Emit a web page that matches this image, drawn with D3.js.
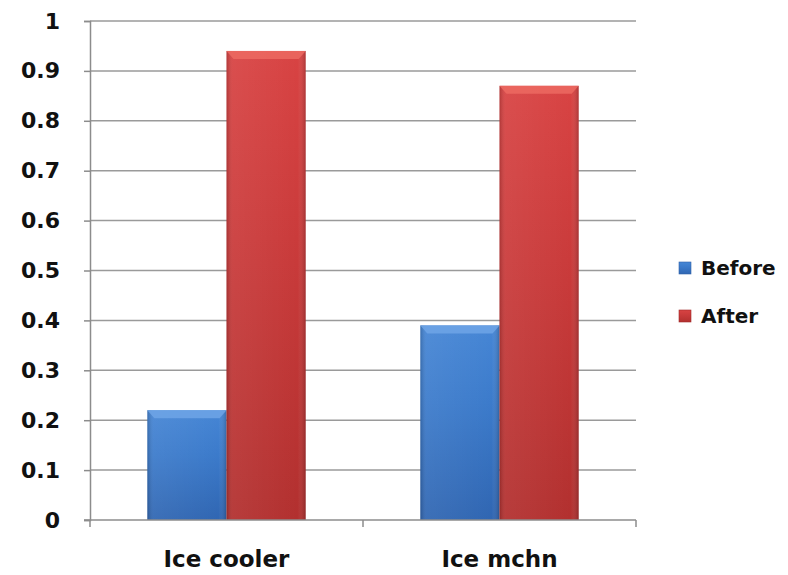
<!DOCTYPE html>
<html>
<head>
<meta charset="utf-8">
<script src="https://cdn.jsdelivr.net/npm/d3@7"></script>
<style>
  body { margin: 0; background: #fff; }
  text { font-family: "DejaVu Sans", Verdana, sans-serif; }
</style>
</head>
<body>
<svg id="chart"></svg>
<script>
const categories = ["Ice cooler", "Ice mchn"];
const seriesNames = ["Before", "After"];
const before = [0.22, 0.39];
const after = [0.94, 0.87];
const yTicks = [0, 0.1, 0.2, 0.3, 0.4, 0.5, 0.6, 0.7, 0.8, 0.9, 1];

const width = 788, height = 575;
const margin = { top: 21, right: 152, bottom: 55, left: 90 };

const svg = d3.select("#chart").attr("width", width).attr("height", height);

const defs = svg.append("defs");
function grad(id, top, mid, bottom) {
  const g = defs.append("linearGradient").attr("id", id)
    .attr("x1", 0).attr("y1", 0).attr("x2", 0).attr("y2", 1);
  g.append("stop").attr("offset", "0%").attr("stop-color", top);
  g.append("stop").attr("offset", "40%").attr("stop-color", mid);
  g.append("stop").attr("offset", "100%").attr("stop-color", bottom);
}
grad("gBefore", "#4686d5", "#3c7bcb", "#3066b2");
grad("gAfter", "#d84343", "#ca3b3b", "#b2302f");
const edge = defs.append("linearGradient").attr("id", "gEdge")
  .attr("x1", 0).attr("y1", 0).attr("x2", 1).attr("y2", 0);
edge.append("stop").attr("offset", "0%").attr("stop-color", "#000").attr("stop-opacity", 0.18);
edge.append("stop").attr("offset", "8%").attr("stop-color", "#fff").attr("stop-opacity", 0.06);
edge.append("stop").attr("offset", "90%").attr("stop-color", "#fff").attr("stop-opacity", 0);
edge.append("stop").attr("offset", "100%").attr("stop-color", "#000").attr("stop-opacity", 0.2);

const x0 = d3.scaleBand().domain(categories)
  .range([margin.left, width - margin.right])
  .paddingInner(0.42).paddingOuter(0.21);
const x1 = d3.scaleBand().domain(seriesNames).range([0, x0.bandwidth()]);
const y = d3.scaleLinear().domain([0, 1]).range([height - margin.bottom, margin.top]);

// gridlines
svg.append("g")
  .selectAll("line")
  .data(yTicks.filter(d => d > 0))
  .enter().append("line")
  .attr("x1", margin.left).attr("x2", width - margin.right)
  .attr("y1", d => y(d)).attr("y2", d => y(d))
  .attr("stroke", "#9a9a9a").attr("stroke-width", 1.5);

// y axis
const yAxis = svg.append("g")
  .attr("transform", `translate(${margin.left},0)`)
  .call(d3.axisLeft(y).tickValues(yTicks).tickSize(6).tickPadding(24)
    .tickFormat(d => d === 0 || d === 1 ? d3.format("d")(d) : d3.format(".1f")(d)));
yAxis.select(".domain").attr("stroke", "#8c8c8c").attr("stroke-width", 1.5);
yAxis.selectAll(".tick line").attr("stroke", "#8c8c8c").attr("stroke-width", 1.5);
yAxis.selectAll(".tick text")
  .attr("font-size", 22).attr("font-weight", "bold").attr("fill", "#111")
  .attr("font-family", "'DejaVu Sans', Verdana, sans-serif");

// bars
const rows = categories.map((c, i) => ({ cat: c, vals: [before[i], after[i]] }));
const group = svg.append("g")
  .selectAll("g")
  .data(rows)
  .enter().append("g")
  .attr("transform", d => `translate(${x0(d.cat)},0)`);

const bars = group.selectAll("g")
  .data(d => d.vals.map((v, k) => ({ key: seriesNames[k], value: v })))
  .enter().append("g");
bars.append("rect")
  .attr("x", d => x1(d.key)).attr("width", x1.bandwidth())
  .attr("y", d => y(d.value)).attr("height", d => y(0) - y(d.value))
  .attr("fill", d => d.key === "Before" ? "url(#gBefore)" : "url(#gAfter)");
bars.append("rect")
  .attr("x", d => x1(d.key)).attr("width", x1.bandwidth())
  .attr("y", d => y(d.value)).attr("height", d => y(0) - y(d.value))
  .attr("fill", "url(#gEdge)");
// top bevel
bars.append("path")
  .attr("d", d => {
    const l = x1(d.key), r = l + x1.bandwidth(), t = y(d.value);
    return `M${l},${t}L${r},${t}L${r - 7},${t + 8}L${l + 7},${t + 8}Z`;
  })
  .attr("fill", d => d.key === "Before" ? "#6ea4e6" : "#ec6a62")
  .attr("opacity", 0.85);

// x axis
const xAxis = svg.append("g").attr("transform", `translate(0,${y(0)})`);
xAxis.append("line")
  .attr("x1", margin.left - 6).attr("x2", width - margin.right)
  .attr("stroke", "#8c8c8c").attr("stroke-width", 1.5);
const boundaries = [margin.left, x0(categories[1]) - x0.step() * x0.paddingInner() / 2, width - margin.right];
xAxis.selectAll(".xt")
  .data(boundaries)
  .enter().append("line")
  .attr("x1", d => d).attr("x2", d => d).attr("y1", 0).attr("y2", 7)
  .attr("stroke", "#8c8c8c").attr("stroke-width", 1.5);
xAxis.selectAll("text")
  .data(categories)
  .enter().append("text")
  .attr("x", d => x0(d) + x0.bandwidth() / 2)
  .attr("y", 47)
  .attr("text-anchor", "middle")
  .attr("font-size", 23).attr("font-weight", "bold").attr("fill", "#111")
  .text(d => d);

// legend
const legend = svg.append("g")
  .selectAll("g")
  .data(seriesNames)
  .enter().append("g")
  .attr("transform", (d, i) => `translate(679,${275 + i * 48})`);
legend.append("rect")
  .attr("x", 0).attr("y", -13).attr("width", 12).attr("height", 12)
  .attr("fill", d => d === "Before" ? "url(#gBefore)" : "url(#gAfter)")
  .attr("stroke", d => d === "Before" ? "#2f62a8" : "#a02a2a").attr("stroke-width", 0.6);
legend.append("text")
  .attr("x", 22).attr("y", 0)
  .attr("font-size", 20).attr("fill", "#111")
  .attr("font-family", "'Open Sans', 'DejaVu Sans', sans-serif")
  .attr("font-weight", 600)
  .text(d => d);
</script>
</body>
</html>
